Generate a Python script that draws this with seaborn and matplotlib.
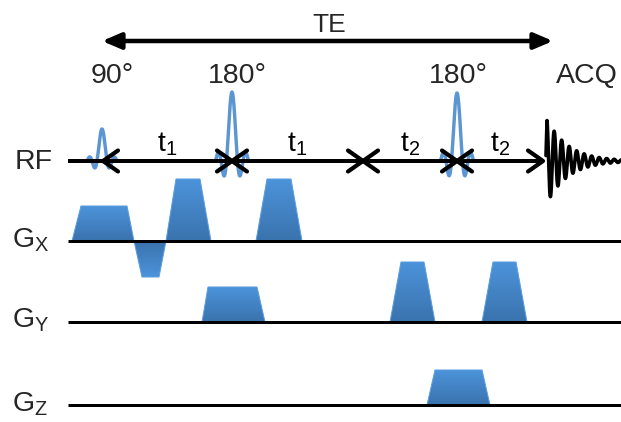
import numpy as np
import pandas as pd
import matplotlib
matplotlib.use("Agg")
import matplotlib.pyplot as plt
from matplotlib.patches import Polygon, FancyArrowPatch
from matplotlib.colors import LinearSegmentedColormap
import seaborn as sns

# ---------------------------------------------------------------- data
# RF pulses: centre time, peak height, main-lobe half width, flip label
rf_centers = [102, 232, 457]
rf_heights = [32, 69, 68]
rf_halfwidth = [5.0, 5.5, 5.5]
rf_labels = ["90°", "180°", "180°"]

# timing marks on the RF line and the intervals between them
timing_marks = [103, 232, 363, 457, 543]
interval_names = ["t", "t", "t", "t"]
interval_subs = ["1", "1", "2", "2"]

# echo time span
te_span = [102, 553]

# gradient lobes: (ramp start, plateau start, plateau end, ramp end, amplitude)
gx_lobes = [(72, 81, 127, 134, 35),
            (134, 142, 159, 166, -36),
            (166, 176, 200, 211, 62),
            (256, 267, 291, 302, 62)]
gy_lobes = [(202, 208, 257, 265, 35),
            (390, 401, 424, 435, 60),
            (482, 493, 516, 527, 60)]
gz_lobes = [(427, 435, 482, 490, 35)]

# acquired signal: onset, first amplitude, oscillation period, decay length
fid_start, fid_amp, fid_period, fid_decay, fid_end = 546, 44, 7.5, 21, 621

# channel rows: label, subscript, baseline position
channel_names = ["RF", "G", "G", "G"]
channel_subs = ["", "X", "Y", "Z"]
channel_base = [161, 241, 322, 405]

# ---------------------------------------------------------------- style
sns.set_theme(style="white")
plt.rcParams["font.family"] = ["Liberation Sans", "DejaVu Sans"]
plt.rcParams["mathtext.fontset"] = "custom"
plt.rcParams["mathtext.rm"] = "Liberation Sans"
plt.rcParams["mathtext.it"] = "Liberation Sans"

W, H = 621, 422
fig = plt.figure(figsize=(W / 100, H / 100), dpi=100)
ax = fig.add_axes([0, 0, 1, 1])
ax.set_axis_off()

PX = 0.72  # points per pixel at 100 dpi
BLUE_LINE = "#5b95d2"
grad_cmap = LinearSegmentedColormap.from_list("lobe", ["#4c93da", "#3a73ae"])
LABEL_SIZE = 20.5

rf_y = channel_base[0]

# ---------------------------------------------------------------- gradient baselines
for base in channel_base[1:]:
    ax.plot([68, W], [base, base], color="black", lw=3 * PX, zorder=3,
            solid_capstyle="butt")

# gradient lobes with a vertical colour ramp
def draw_lobe(lobe, base):
    t0, t1, t2, t3, amp = lobe
    top = base - amp
    poly = Polygon([(t0, base), (t1, top), (t2, top), (t3, base)],
                   closed=True, facecolor="none", edgecolor="#5a9de0",
                   lw=1 * PX, zorder=2)
    ax.add_patch(poly)
    ramp = np.linspace(0, 1, 64).reshape(-1, 1)
    img = ax.imshow(ramp, cmap=grad_cmap, aspect="auto", origin="upper",
                    extent=(t0, t3, base, top), zorder=1,
                    interpolation="bilinear")
    img.set_clip_path(poly)

for lobes, base in zip([gx_lobes, gy_lobes, gz_lobes], channel_base[1:]):
    for lobe in lobes:
        draw_lobe(lobe, base)

# ---------------------------------------------------------------- RF pulses (sinc shapes)
rows = []
for i, (c, h, hw) in enumerate(zip(rf_centers, rf_heights, rf_halfwidth)):
    u = np.linspace(-3, 3, 241)
    for uu in u:
        rows.append({"pulse": i, "x": c + uu * hw, "y": rf_y - h * np.sinc(uu)})
rf_df = pd.DataFrame(rows)
sns.lineplot(data=rf_df, x="x", y="y", units="pulse", estimator=None,
             sort=False, color=BLUE_LINE, lw=3.4 * PX, ax=ax, zorder=4,
             legend=False)

# ---------------------------------------------------------------- RF line with timing chevrons
ax.plot([68, timing_marks[-1]], [rf_y, rf_y], color="black", lw=4 * PX,
        zorder=5, solid_capstyle="butt")
head_dx, head_dy = 15, 10.5
for i, m in enumerate(timing_marks):
    dirs = []
    if i > 0:
        dirs.append(-1)  # head of the interval ending here (points right)
    if i < len(timing_marks) - 1:
        dirs.append(+1)  # head of the interval starting here (points left)
    for d in dirs:
        ax.plot([m + d * head_dx, m, m + d * head_dx],
                [rf_y - head_dy, rf_y, rf_y + head_dy],
                color="black", lw=4.2 * PX, zorder=6,
                solid_capstyle="round", solid_joinstyle="round")

for a, b, name, sub in zip(timing_marks[:-1], timing_marks[1:],
                           interval_names, interval_subs):
    ax.text((a + b) / 2, rf_y - 9, rf"$\mathregular{{{name}_{sub}}}$",
            ha="center", va="baseline", fontsize=LABEL_SIZE, color="black",
            zorder=7)

# ---------------------------------------------------------------- acquired signal
fid_x = np.linspace(fid_start, fid_end, 800)
fid_t = fid_x - fid_start
fid_env = fid_amp * np.exp(-fid_t / fid_decay) * np.minimum(1, fid_t / 1.2 + 0.15)
fid_y = rf_y - fid_env * np.cos(2 * np.pi * fid_t / fid_period - 0.6)
fid_df = pd.DataFrame({"x": fid_x, "y": fid_y})
sns.lineplot(data=fid_df, x="x", y="y", sort=False, estimator=None,
             color="black", lw=3.6 * PX, ax=ax, zorder=5)

# ---------------------------------------------------------------- TE span arrow
te_arrow = FancyArrowPatch((te_span[0], 41), (te_span[1], 41),
                           arrowstyle="<|-|>,head_length=0.75,head_width=0.32",
                           mutation_scale=15, lw=4.5 * PX, color="black",
                           shrinkA=0, shrinkB=0, zorder=5)
ax.add_patch(te_arrow)
ax.text(329, 32, "TE", ha="center", va="baseline", fontsize=19)

# ---------------------------------------------------------------- labels
label_x = [112, 237, 458]
for x, lab in zip(label_x, rf_labels):
    ax.text(x, 83, lab, ha="center", va="baseline", fontsize=LABEL_SIZE)
ax.text(587, 83, "ACQ", ha="center", va="baseline", fontsize=LABEL_SIZE)

for name, sub, base in zip(channel_names, channel_subs, channel_base):
    label = name if not sub else rf"$\mathregular{{{name}_{sub}}}$"
    off = 8 if not sub else 6
    ax.text(12 if sub else 15, base + off, label, ha="left", va="baseline",
            fontsize=LABEL_SIZE)

ax.set_xlim(0, W)
ax.set_ylim(H, 0)

fig.savefig("out.png", dpi=100, facecolor="white")
